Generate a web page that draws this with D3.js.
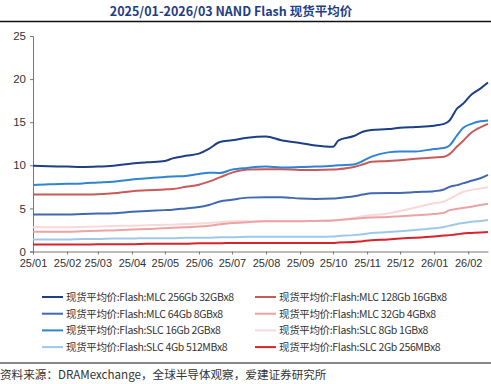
<!DOCTYPE html>
<html lang="zh">
<head>
<meta charset="UTF-8">
<title>NAND Flash 现货平均价</title>
<script src="https://d3js.org/d3.v7.min.js"></script>
<style>
  body { margin: 0; background: #fff; }
  svg { display: block; font-family: "Noto Sans CJK SC", "Noto Sans", sans-serif; }
</style>
</head>
<body>
<div class="chart"></div>
<script>
// 日期（周度/半月抽样）
const dates = ['2025-01-01','2025-01-15','2025-02-01','2025-02-15','2025-03-01','2025-03-15',
  '2025-04-01','2025-04-15','2025-05-01','2025-05-08','2025-05-20','2025-06-01','2025-06-10',
  '2025-06-20','2025-07-01','2025-07-15','2025-08-01','2025-08-15','2025-09-01','2025-09-15',
  '2025-10-01','2025-10-06','2025-10-20','2025-10-28','2025-11-05','2025-11-20','2025-12-01',
  '2025-12-15','2026-01-01','2026-01-10','2026-01-15','2026-01-22','2026-01-27','2026-02-04',
  '2026-02-12','2026-02-19']

const mlc256 = [9.95,9.9,9.85,9.8,9.85,9.95,10.2,10.35,10.5,10.8,11.1,11.35,11.9,12.7,12.9,13.2,13.35,12.9,
  12.6,12.3,12.15,12.9,13.4,13.9,14.1,14.2,14.35,14.45,14.6,14.8,15.2,16.6,17.1,18.2,18.9,19.6]
const mlc128 = [6.6,6.6,6.6,6.6,6.65,6.75,7.0,7.1,7.2,7.25,7.5,7.75,8.1,8.6,9.15,9.5,9.55,9.55,
  9.45,9.45,9.5,9.55,9.8,10.1,10.4,10.5,10.6,10.75,10.9,11.0,11.3,12.2,12.8,13.8,14.4,14.8]
const mlc64 = [4.3,4.3,4.3,4.35,4.4,4.45,4.6,4.7,4.8,4.85,5.0,5.15,5.4,5.8,6.0,6.25,6.3,6.3,
  6.15,6.1,6.15,6.2,6.4,6.6,6.75,6.8,6.8,6.9,7.0,7.2,7.5,7.7,7.9,8.2,8.5,8.9]
const mlc32 = [2.3,2.3,2.3,2.35,2.4,2.45,2.55,2.6,2.7,2.75,2.8,2.9,3.0,3.15,3.3,3.4,3.5,3.5,
  3.5,3.55,3.6,3.65,3.8,3.9,3.95,4.0,4.1,4.2,4.35,4.5,4.8,4.95,5.05,5.2,5.4,5.55]
const slc16 = [7.7,7.8,7.85,7.9,8.0,8.1,8.35,8.5,8.65,8.7,8.75,9.0,9.15,9.1,9.5,9.7,9.85,9.75,
  9.8,9.85,9.95,10.0,10.1,10.5,11.0,11.5,11.6,11.6,11.9,12.0,12.3,13.5,14.3,14.8,15.1,15.2]
const slc8 = [2.8,2.8,2.8,2.85,2.9,2.95,3.0,3.05,3.1,3.1,3.2,3.25,3.3,3.4,3.5,3.5,3.55,3.55,
  3.55,3.55,3.6,3.65,3.9,4.1,4.2,4.4,4.7,5.1,5.6,5.8,6.1,6.6,6.9,7.15,7.3,7.45]
const slc4 = [1.4,1.4,1.4,1.45,1.45,1.5,1.5,1.55,1.55,1.55,1.6,1.6,1.6,1.65,1.65,1.7,1.7,1.7,
  1.7,1.7,1.75,1.8,1.9,2.0,2.15,2.25,2.35,2.5,2.7,2.85,3.0,3.2,3.3,3.45,3.55,3.65]
const slc2 = [0.8,0.8,0.8,0.8,0.85,0.85,0.85,0.9,0.9,0.9,0.9,0.95,0.95,0.95,1.0,1.0,1.0,1.0,
  1.0,1.0,1.0,1.05,1.1,1.2,1.3,1.4,1.5,1.6,1.75,1.85,1.9,2.0,2.1,2.15,2.2,2.25]

const yTicks = [0, 5, 10, 15, 20, 25]

// 图例顺序：左列 / 右列交替
const series = [
  { name: '现货平均价:Flash:MLC 256Gb 32GBx8', values: mlc256, color: '#1c3f86' },
  { name: '现货平均价:Flash:MLC 128Gb 16GBx8', values: mlc128, color: '#c85a58' },
  { name: '现货平均价:Flash:MLC 64Gb 8GBx8',   values: mlc64,  color: '#4069b2' },
  { name: '现货平均价:Flash:MLC 32Gb 4GBx8',   values: mlc32,  color: '#eba3a3' },
  { name: '现货平均价:Flash:SLC 16Gb 2GBx8',   values: slc16,  color: '#2f84d3' },
  { name: '现货平均价:Flash:SLC 8Gb 1GBx8',    values: slc8,   color: '#f8d8da' },
  { name: '现货平均价:Flash:SLC 4Gb 512MBx8',  values: slc4,   color: '#9fc7ea' },
  { name: '现货平均价:Flash:SLC 2Gb 256MBx8',  values: slc2,   color: '#d9222b' }
]

const W = 491, H = 384
const parse = d3.timeParse('%Y-%m-%d')
const xDates = dates.map(parse)

const svg = d3.select('.chart').append('svg')
  .attr('width', W).attr('height', H)

// 标题
svg.append('text')
  .attr('x', 231).attr('y', 16)
  .attr('text-anchor', 'middle')
  .style('font-size', '12.5px').style('font-weight', 'bold')
  .style('fill', '#1f3d85')
  .text('2025/01-2026/03 NAND Flash 现货平均价')

svg.append('line')
  .attr('x1', 0).attr('x2', W).attr('y1', 21.5).attr('y2', 21.5)
  .attr('stroke', '#111').attr('stroke-width', 1.5)

const xScale = d3.scaleTime()
  .domain([parse('2025-01-01'), parse('2026-02-19')])
  .range([33, 488])

const yScale = d3.scaleLinear()
  .domain([0, 25])
  .range([251.5, 36])

// y 轴
const yAxis = d3.axisLeft(yScale).tickValues(yTicks).tickSize(3).tickPadding(4)
const yG = svg.append('g').attr('transform', 'translate(33,0)').call(yAxis)
yG.select('.domain').attr('stroke', '#777')
yG.selectAll('.tick line').attr('stroke', '#777')
yG.selectAll('text').style('font-size', '11.5px').style('fill', '#333')
  .style('font-family', '"Liberation Sans", Arial, sans-serif')

// x 轴
const monthTicks = d3.timeMonth.range(parse('2025-01-01'), parse('2026-02-02'))
const xAxis = d3.axisBottom(xScale).tickValues(monthTicks)
  .tickFormat(d3.timeFormat('%y/%m')).tickSize(3).tickSizeOuter(0).tickPadding(5)
const xG = svg.append('g').attr('transform', 'translate(0,251.5)').call(xAxis)
xG.select('.domain').attr('stroke', '#777')
xG.selectAll('.tick line').attr('stroke', '#777')
xG.selectAll('text').style('font-size', '11px').style('fill', '#333')

// 线条（后画的在上，深色放最后）
const line = d3.line()
  .x((d, i) => xScale(xDates[i]))
  .y(d => yScale(d))
  .curve(d3.curveMonotoneX)

const drawOrder = [5, 3, 6, 7, 2, 1, 4, 0]
svg.append('g').selectAll('path')
  .data(drawOrder.map(i => series[i]))
  .join('path')
  .attr('d', d => line(d.values))
  .attr('fill', 'none')
  .attr('stroke', d => d.color)
  .attr('stroke-width', 2)

// 图例
const legend = svg.append('g').selectAll('g')
  .data(series)
  .join('g')
  .attr('transform', (d, i) => `translate(${i % 2 === 0 ? 42 : 255},${297 + Math.floor(i / 2) * 16.7})`)

legend.append('line')
  .attr('x1', 0).attr('x2', 21).attr('y1', 0).attr('y2', 0)
  .attr('stroke', d => d.color).attr('stroke-width', 2)

legend.append('text')
  .attr('x', 24).attr('y', 4)
  .style('font-size', '10.5px').style('fill', '#333')
  .style('letter-spacing', '-0.35px')
  .text(d => d.name)

svg.append('line')
  .attr('x1', 0).attr('x2', W).attr('y1', 363).attr('y2', 363)
  .attr('stroke', '#888').attr('stroke-width', 2)

svg.append('text')
  .attr('x', 0).attr('y', 378.5)
  .style('font-size', '11.6px').style('fill', '#333')
  .text('资料来源：DRAMexchange，全球半导体观察，爱建证券研究所')
</script>
</body>
</html>
